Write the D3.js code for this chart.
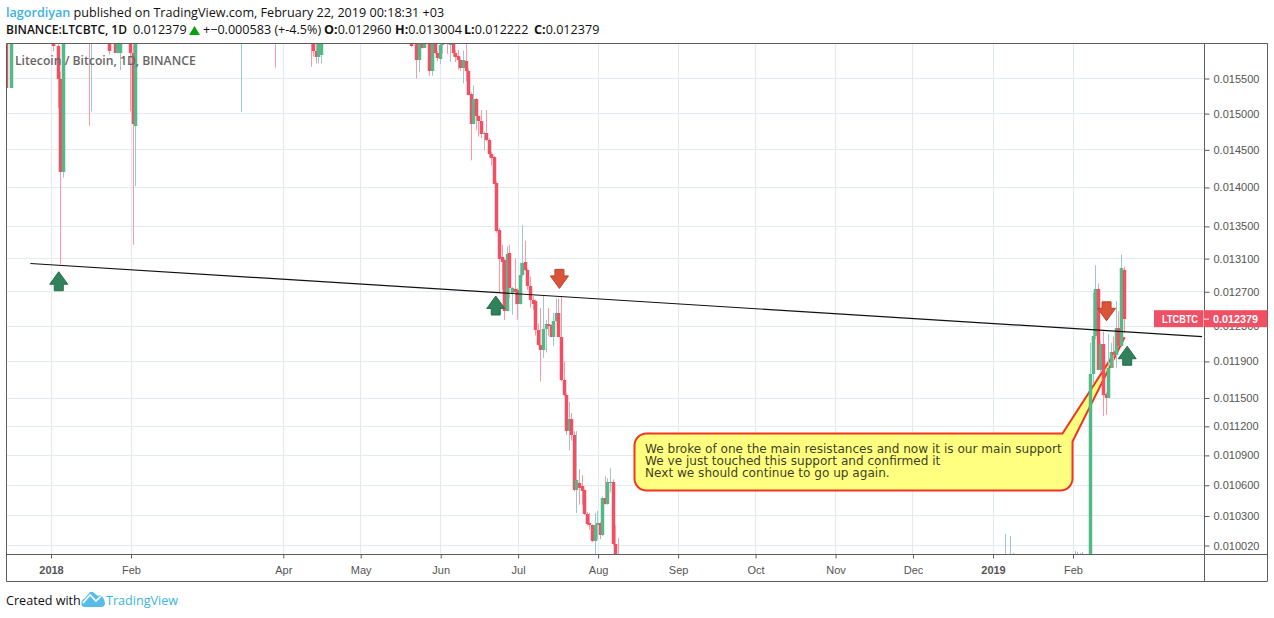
<!DOCTYPE html>
<html>
<head>
<meta charset="utf-8">
<script src="https://cdn.jsdelivr.net/npm/d3@7"></script>
<style>
  html, body { margin: 0; padding: 0; background: #fff; overflow: hidden; }
  svg { display: block; }
  .hdr { font-family: "Open Sans", "Noto Sans", sans-serif; font-size: 12.6px; fill: #111; }
  .axis text { font-family: "Liberation Sans", Arial, sans-serif; font-size: 11px; fill: #555; }
</style>
</head>
<body>
<svg id="chart" width="1274" height="618"></svg>
<script>
// candles, one entry per day, only those that reach into the visible price range
const candleDates = [
  "2017-12-15","2017-12-17","2018-01-02","2018-01-04","2018-01-05","2018-01-06","2018-01-16","2018-01-17","2018-01-24","2018-01-26",
  "2018-01-27","2018-01-28","2018-02-01","2018-02-02","2018-02-03","2018-03-16","2018-03-29","2018-04-12","2018-04-13","2018-04-14",
  "2018-04-15","2018-04-16","2018-05-21","2018-05-23","2018-05-24","2018-05-25","2018-05-26","2018-05-28","2018-05-29","2018-05-30","2018-05-31",
  "2018-06-01","2018-06-02","2018-06-04","2018-06-05","2018-06-06","2018-06-07","2018-06-08","2018-06-09","2018-06-10","2018-06-11",
  "2018-06-12","2018-06-13","2018-06-14","2018-06-15","2018-06-16","2018-06-17","2018-06-18","2018-06-19","2018-06-20","2018-06-21",
  "2018-06-22","2018-06-23","2018-06-24","2018-06-25","2018-06-26","2018-06-27","2018-06-28","2018-06-29","2018-06-30","2018-07-01",
  "2018-07-02","2018-07-03","2018-07-04","2018-07-05","2018-07-06","2018-07-07","2018-07-08","2018-07-09","2018-07-10","2018-07-11",
  "2018-07-12","2018-07-13","2018-07-14","2018-07-15","2018-07-16","2018-07-17","2018-07-18","2018-07-19","2018-07-20","2018-07-21",
  "2018-07-22","2018-07-23","2018-07-24","2018-07-25","2018-07-26","2018-07-27","2018-07-28","2018-07-29","2018-07-30","2018-07-31",
  "2018-08-01","2018-08-02","2018-08-03","2018-08-04","2018-08-05","2018-08-06","2018-08-07","2018-08-08","2018-08-09","2019-01-06",
  "2019-01-08","2019-01-09","2019-02-02","2019-02-03","2019-02-04","2019-02-05","2019-02-06","2019-02-08","2019-02-09","2019-02-10",
  "2019-02-11","2019-02-12","2019-02-13","2019-02-14","2019-02-15","2019-02-16","2019-02-17","2019-02-18","2019-02-19","2019-02-20",
  "2019-02-21"
];
const candleOpen = [
  .0165,.01536,.0163,.01598,.0155,.01421,.0165,.0163,.0165,.0165,
  .01587,.01588,.0165,.01588,.01483,.0163,.0165,.0165,.0165,.01591,
  .01582,.01585,.0165,.0165,.01577,.0165,.01595,.0165,.01561,.0165,.01588,
  .01579,.01599,.0163,.01599,.0165,.01587,.01583,.01577,.01566,.01576,
  .01561,.01528,.01485,.0152,.01496,.0149,.01472,.01473,.01464,.01445,
  .0144,.01406,.01345,.01312,.01308,.01247,.01317,.01268,.01273,.01272,
  .01256,.0129,.01306,.01296,.01277,.0126,.01259,.01226,.01208,.01203,
  .01227,.01232,.01231,.01218,.01236,.01245,.01218,.0117,.01153,.01115,
  .01128,.01111,.01055,.01062,.01059,.01055,.01032,.01023,.01021,.01006,
  .01021,.01023,.01012,.01047,.01042,.01062,.01063,.01003,.0098,.0096,
  .0096,.0097,.0096,.0097,.0096,.0096,.0097,.0097,.01176,.01219,
  .01273,.01181,.0121,.01154,.0115,.01183,.01201,.01197,.01228,.01207,
  .01296
];
const candleHigh = [
  .0168,.0168,.0168,.0163,.0156,.0165,.0168,.0168,.0168,.0168,
  .0165,.0165,.0168,.016,.0165,.0168,.0168,.0168,.0168,.0165,
  .0165,.0165,.0168,.0168,.0163,.0168,.0163,.0168,.0163,.0168,.0159,
  .01602,.0163,.0168,.0163,.0168,.01592,.01592,.0158,.01591,.01601,
  .01565,.0153,.0154,.01522,.01497,.01505,.01475,.01505,.01466,.01447,
  .01442,.01408,.01348,.01327,.0131,.01325,.01327,.01276,.0131,.01274,
  .01305,.01352,.01332,.01298,.01288,.01265,.01261,.01233,.01251,.01265,
  .01237,.01251,.01232,.01245,.01262,.01262,.01265,.0119,.01155,.01146,
  .01134,.01115,.01115,.01076,.0107,.01056,.01034,.01033,.01022,.01033,
  .01035,.01024,.01049,.01069,.01067,.01077,.01066,.01021,.01009,.01013,
  .01011,.00995,.00997,.00996,.00995,.00996,.00993,.01211,.01269,.01302,
  .0128,.01212,.01224,.01156,.01221,.01211,.01218,.01259,.01247,.01315,
  .013004
];
const candleLow = [
  .01479,.01536,.0159,.01508,.01303,.01413,.01483,.01503,.01585,.01587,
  .01587,.01562,.01503,.01327,.01402,.01502,.01566,.01567,.01582,.01572,
  .01572,.01572,.01596,.0155,.01559,.01594,.01595,.01554,.01554,.01586,.01575,
  .01571,.01587,.01586,.01574,.01582,.01574,.01563,.01561,.01543,.01546,
  .01527,.01436,.01485,.01477,.01468,.01466,.01449,.01462,.0144,.01429,
  .01405,.01342,.01269,.01272,.01237,.01247,.01263,.01243,.01255,.01237,
  .01255,.01288,.01295,.01272,.01251,.01249,.01219,.01208,.01168,.01194,
  .012,.01219,.01217,.01207,.01235,.01218,.01168,.01152,.01111,.01095,
  .01105,.01054,.01033,.01041,.01041,.01031,.01021,.01017,.01005,.00994,
  .01008,.01008,.01011,.01041,.01041,.01053,.01002,.0099,.0096,.0095,
  .0095,.0095,.0095,.0095,.0095,.0095,.0095,.0096,.01165,.01215,
  .01181,.01178,.01131,.01132,.0115,.01183,.01183,.01183,.01206,.01206,
  .012222
];
const candleClose = [
  .01536,.0165,.01598,.0155,.01421,.0163,.0163,.0165,.01591,.01587,
  .0163,.0163,.01588,.01485,.0163,.0165,.0163,.0163,.01591,.01582,
  .0163,.0163,.01598,.01577,.0163,.01595,.0163,.01561,.0163,.01588,.0158,
  .016,.0163,.01601,.0163,.01587,.01582,.01577,.01566,.01577,.01561,
  .01527,.01485,.01521,.01496,.01489,.01472,.01473,.01463,.01445,.01439,
  .01405,.01344,.0131,.01306,.01247,.01316,.01275,.01274,.0127,.01256,
  .0129,.01304,.01296,.01277,.0126,.01255,.01226,.01208,.01203,.01227,
  .01232,.0123,.01218,.01236,.01245,.01218,.01169,.01153,.01115,.01128,
  .01111,.01055,.01065,.01057,.01054,.01032,.01022,.01021,.01006,.01021,
  .01023,.01012,.01047,.01042,.01063,.01063,.01003,.00993,.0097,.0097,
  .0097,.0096,.0097,.0096,.0097,.0097,.0096,.01176,.01219,.01273,
  .01181,.0121,.01153,.0115,.01183,.012,.01197,.01228,.01207,.01298,
  .012379
];

const priceTicks = [0.0155, 0.015, 0.0145, 0.014, 0.0135, 0.0131, 0.0127, 0.0123, 0.0119, 0.0115, 0.0112, 0.0109, 0.0106, 0.0103, 0.01002];
const timeTicks = ["2018-01-01","2018-02-01","2018-04-01","2018-05-01","2018-06-01","2018-07-01","2018-08-01","2018-09-01","2018-10-01","2018-11-01","2018-12-01","2019-01-01","2019-02-01"];
const timeLabels = ["2018","Feb","Apr","May","Jun","Jul","Aug","Sep","Oct","Nov","Dec","2019","Feb"];

const lastPrice = 0.012379;
const trendDates = ["2017-12-24", "2019-03-23"];
const trendPrices = [0.01304, 0.01218];
const upArrowDates = ["2018-01-04", "2018-06-22T08:00Z", "2019-02-22"];
const upArrowPrices = [0.01294, 0.01265, 0.01207];
const downArrowDates = ["2018-07-17", "2019-02-14"];
const downArrowPrices = [0.01274, 0.01236];
const calloutLines = [
  "We broke of one the main resistances and now it is our main support",
  "We ve just touched this support and confirmed it",
  "Next we should continue to go up again."
];
const calloutTipDate = "2019-02-21";
const calloutTipPrice = 0.01217;

const plotLeft = 6.5, plotRight = 1204.5, plotTop = 43.5, plotBottom = 554.5, axisBottom = 581.5, priceRight = 1267.5;
const upColor = "#53b987", downColor = "#ef5064", upWick = "#9fc8cc", downWick = "#fb9aa5";
const frameColor = "#5d5d5d", gridColor = "#e3ebf1";

const svg = d3.select("#chart");

const x = d3.scaleUtc()
  .domain([new Date("2018-01-01"), new Date("2019-01-01")])
  .range([51, 993]);
const y = d3.scaleLog()
  .domain([0.0155, 0.01002])
  .range([78.5, 545.5]);

svg.append("defs").append("clipPath").attr("id", "plot-clip")
  .append("rect")
  .attr("x", plotLeft).attr("y", plotTop)
  .attr("width", plotRight - plotLeft).attr("height", plotBottom - plotTop);

// grid
const grid = svg.append("g").attr("stroke", gridColor).attr("stroke-width", 1.2);
priceTicks.forEach(p => {
  const py = Math.floor(y(p)) + 0.5;
  grid.append("line").attr("x1", plotLeft).attr("x2", plotRight).attr("y1", py).attr("y2", py);
});
timeTicks.forEach(t => {
  const px = Math.floor(x(new Date(t))) + 0.5;
  grid.append("line").attr("y1", plotTop).attr("y2", plotBottom).attr("x1", px).attr("x2", px);
});

const plot = svg.append("g").attr("clip-path", "url(#plot-clip)");

// callout sits under the candles
const box = { x: 634.5, y: 433.5, w: 438, h: 57, r: 12 };
const tipX = x(new Date(calloutTipDate)), tipY = y(calloutTipPrice);
const bx1 = box.x + box.w, by1 = box.y + box.h;
plot.append("path")
  .attr("d", `M${box.x + box.r},${box.y} H${bx1 - 10} L${tipX},${tipY} L${bx1},${box.y + 8}
    V${by1 - box.r} A${box.r},${box.r} 0 0 1 ${bx1 - box.r},${by1} H${box.x + box.r}
    A${box.r},${box.r} 0 0 1 ${box.x},${by1 - box.r} V${box.y + box.r} A${box.r},${box.r} 0 0 1 ${box.x + box.r},${box.y} Z`)
  .attr("fill", "#ffff80").attr("stroke", "#f5331f").attr("stroke-width", 2);
plot.append("g").selectAll("text").data(calloutLines).join("text")
  .attr("x", 645).attr("y", (d, i) => 453 + i * 12)
  .attr("font-family", "'DejaVu Sans', Verdana, sans-serif").attr("font-size", 12.08)
  .attr("fill", "#3f3f24")
  .text(d => d);

// candles
candleDates.forEach((d, i) => {
  const cx = Math.round(x(new Date(d)) - 1);
  const o = candleOpen[i], c = candleClose[i];
  const up = c >= o;
  plot.append("rect")
    .attr("x", cx).attr("width", 1)
    .attr("y", y(candleHigh[i])).attr("height", y(candleLow[i]) - y(candleHigh[i]))
    .attr("fill", up ? upWick : downWick);
  const top = y(Math.max(o, c)), bot = y(Math.min(o, c));
  plot.append("rect")
    .attr("x", cx - 1.25).attr("width", 3.5)
    .attr("y", Math.round(top)).attr("height", Math.max(1, Math.round(bot) - Math.round(top)))
    .attr("fill", up ? upColor : downColor);
});

// watermark title, over the candles
svg.append("text")
  .attr("x", 15).attr("y", 65)
  .attr("font-family", "'Open Sans', sans-serif").attr("font-size", 12.2).attr("font-weight", 600)
  .attr("fill", "#666")
  .text("Litecoin / Bitcoin, 1D, BINANCE");

// trend line
svg.append("line")
  .attr("x1", x(new Date(trendDates[0]))).attr("y1", y(trendPrices[0]))
  .attr("x2", x(new Date(trendDates[1]))).attr("y2", y(trendPrices[1]))
  .attr("stroke", "#111").attr("stroke-width", 1.2);

// arrows, tip on the given date and price
function arrow(tx, ty, dir, fill, stroke) {
  const p = (dx, dy) => `${tx + dx},${ty + dir * dy}`;
  svg.append("path")
    .attr("d", `M${p(0, 0)} L${p(9, 12.5)} L${p(4.5, 12.5)} L${p(4.5, 19)} L${p(-4.5, 19)} L${p(-4.5, 12.5)} L${p(-9, 12.5)} Z`)
    .attr("fill", fill).attr("stroke", stroke).attr("stroke-width", 1).attr("stroke-linejoin", "round");
}
upArrowDates.forEach((d, i) => arrow(x(new Date(d)), y(upArrowPrices[i]), 1, "#2f8259", "#2a6b4c"));
downArrowDates.forEach((d, i) => arrow(x(new Date(d)), y(downArrowPrices[i]), -1, "#dc5438", "#bd3f2a"));

// frame
svg.append("path")
  .attr("d", `M${plotLeft},${plotTop} H${priceRight} V${axisBottom} H${plotLeft} Z M${plotLeft},${plotBottom} H${priceRight} M${plotRight},${plotTop} V${axisBottom}`)
  .attr("fill", "none").attr("stroke", frameColor).attr("stroke-width", 1);

// axes
const priceAxis = d3.axisRight(y)
  .tickValues(priceTicks)
  .tickFormat(d3.format(".6f"))
  .tickSize(5).tickPadding(4);
svg.append("g").attr("class", "axis")
  .attr("transform", `translate(${plotRight},0)`)
  .call(priceAxis)
  .call(g => g.select(".domain").remove())
  .call(g => g.selectAll("line").attr("stroke", frameColor));

const timeAxis = d3.axisBottom(x)
  .tickValues(timeTicks.map(t => new Date(t)))
  .tickFormat((d, i) => timeLabels[i])
  .tickSize(4).tickPadding(8);
svg.append("g").attr("class", "axis")
  .attr("transform", `translate(0,${plotBottom})`)
  .call(timeAxis)
  .call(g => g.select(".domain").remove())
  .call(g => g.selectAll("line").attr("stroke", frameColor))
  .call(g => g.selectAll("text").attr("font-weight", (d, i) => /^20/.test(timeLabels[i]) ? 700 : 400));

// last price badges
const lastY = y(lastPrice) - 0.5;
const badges = svg.append("g");
badges.append("rect").attr("x", 1154).attr("y", lastY - 8.5).attr("width", 49.5).attr("height", 17).attr("fill", downColor);
badges.append("rect").attr("x", 1204).attr("y", lastY - 8.5).attr("width", 63.5).attr("height", 17).attr("fill", downColor);
badges.append("line").attr("x1", 1204).attr("x2", 1209).attr("y1", lastY + 0.5).attr("y2", lastY + 0.5).attr("stroke", "#fff");
badges.append("text").attr("x", 1162).attr("y", lastY + 4)
  .attr("font-family", "'Liberation Sans', Arial, sans-serif").attr("font-size", 10).attr("font-weight", 700).attr("fill", "#fff")
  .attr("textLength", 36).attr("lengthAdjust", "spacingAndGlyphs")
  .text("LTCBTC");
badges.append("text").attr("x", 1213).attr("y", lastY + 4)
  .attr("font-family", "'Liberation Sans', Arial, sans-serif").attr("font-size", 11).attr("font-weight", 700).attr("fill", "#fff")
  .attr("textLength", 45).attr("lengthAdjust", "spacingAndGlyphs")
  .text(d3.format(".6f")(lastPrice));

// header
const head1 = svg.append("text").attr("class", "hdr").attr("x", 6).attr("y", 17);
head1.append("tspan").attr("font-weight", 600).style("fill", "#3bb3e4").text("lagordiyan");
head1.append("tspan").text(" published on TradingView.com, February 22, 2019 00:18:31 +03");

svg.append("text").attr("class", "hdr").attr("x", 6).attr("y", 34)
  .attr("font-weight", 600)
  .attr("textLength", 121).attr("lengthAdjust", "spacingAndGlyphs")
  .text("BINANCE:LTCBTC, 1D");
const head2 = svg.append("text").attr("class", "hdr").attr("x", 133).attr("y", 34);
head2.append("tspan").text("0.012379");
head2.append("tspan").attr("x", 203).text("+\u22120.000583 (+-4.5%)");
const ohlc = [["O:", "0.012960"], ["H:", "0.013004"], ["L:", "0.012222"], ["C:", "0.012379"]];
const ohlcX = [324, 395, 464, 534];
ohlc.forEach((o, i) => {
  head2.append("tspan").attr("x", ohlcX[i]).attr("font-weight", 700).text(o[0]);
  head2.append("tspan").text(o[1]);
});
svg.append("path").attr("d", "M189,35 L194.5,26 L200,35 Z").attr("fill", "#09a009");

// footer
svg.append("text").attr("class", "hdr").attr("x", 6).attr("y", 605).text("Created with");
svg.append("path")
  .attr("d", "M82,606 Q80,601 85,598 L90,592 Q92,591 94,593 L98,596 L100,595 Q104,597 105,603 Q105,607 101,607 L86,607 Q83,607 82,606 Z")
  .attr("fill", "#55bde8");
svg.append("path")
  .attr("d", "M83,603 L90,595 L96,601 L101,596")
  .attr("fill", "none").attr("stroke", "#fff").attr("stroke-width", 1.6);
svg.append("text").attr("class", "hdr").attr("x", 106).attr("y", 605).style("fill", "#3bb3e4").text("TradingView");
</script>
</body>
</html>
